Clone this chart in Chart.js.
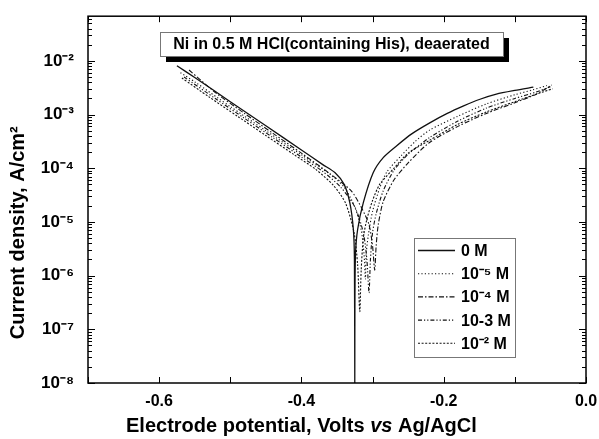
<!DOCTYPE html>
<html><head><meta charset="utf-8">
<script src="https://cdn.jsdelivr.net/npm/chart.js@4"></script>
<style>html,body{margin:0;padding:0;background:#fff}#wrap{width:599px;height:439px}</style>
</head><body><div id="wrap"><canvas id="c" width="599" height="439"></canvas></div>
<script>
// ---- data ----
const seriesLabels = ['0 M', '10\u207B\u2075 M', '10\u207B\u2074 M', '10-3 M', '10\u207B\u00B2 M'];
const chartTitle = 'Ni in 0.5 M HCl(containing His), deaerated';
const xTitleParts = ['Electrode potential, Volts ', 'vs', ' Ag/AgCl'];
const yTitle = 'Current density, A/cm\u00B2';

const potential_0M = [-0.575,-0.55,-0.50,-0.45,-0.40,-0.37,-0.353,-0.340,-0.332,-0.327,-0.3255,-0.325,-0.3248,-0.324,-0.321,-0.313,-0.299,-0.285,-0.266,-0.245,-0.219,-0.195,-0.172,-0.150,-0.126,-0.100,-0.074];
const current_0M   = [8.13e-3,4.90e-3,1.74e-3,6.17e-4,2.19e-4,1.17e-4,8.32e-5,5.01e-5,2.29e-5,7.24e-6,2.00e-6,1.0e-8,3.16e-7,2.51e-6,7.24e-6,2.29e-5,8.32e-5,1.58e-4,2.63e-4,4.37e-4,7.08e-4,1.05e-3,1.45e-3,1.91e-3,2.40e-3,2.82e-3,3.24e-3];

const potential_1e5 = [-0.570,-0.55,-0.50,-0.45,-0.40,-0.36,-0.34,-0.325,-0.316,-0.312,-0.310,-0.309,-0.306,-0.300,-0.290,-0.280,-0.260,-0.240,-0.220,-0.180,-0.140,-0.100,-0.075,-0.055];
const current_1e5   = [6.03e-3,4.07e-3,1.41e-3,5.01e-4,1.78e-4,7.76e-5,4.47e-5,1.91e-5,7.08e-6,2.51e-6,8.51e-7,2.51e-6,5.62e-6,1.58e-5,4.27e-5,8.51e-5,1.70e-4,3.16e-4,5.13e-4,9.33e-4,1.58e-3,2.34e-3,2.88e-3,3.47e-3];

const potential_1e4 = [-0.558,-0.52,-0.48,-0.44,-0.40,-0.36,-0.33,-0.315,-0.305,-0.300,-0.297,-0.295,-0.292,-0.285,-0.270,-0.250,-0.220,-0.180,-0.140,-0.100,-0.070,-0.048];
const current_1e4   = [6.76e-3,2.51e-3,1.05e-3,4.47e-4,1.91e-4,7.94e-5,3.80e-5,1.78e-5,8.91e-6,3.55e-6,1.26e-6,3.55e-6,8.91e-6,2.40e-5,6.03e-5,1.26e-4,3.02e-4,6.03e-4,1.05e-3,1.66e-3,2.40e-3,3.55e-3];

const potential_1e3 = [-0.565,-0.52,-0.48,-0.44,-0.40,-0.37,-0.345,-0.325,-0.313,-0.308,-0.305,-0.303,-0.300,-0.295,-0.285,-0.270,-0.250,-0.220,-0.180,-0.140,-0.100,-0.070,-0.050];
const current_1e3   = [5.01e-3,1.95e-3,8.51e-4,3.72e-4,1.62e-4,8.71e-5,4.47e-5,1.91e-5,6.31e-6,2.00e-6,4.79e-7,2.00e-6,6.31e-6,1.41e-5,3.80e-5,9.12e-5,1.82e-4,3.72e-4,7.59e-4,1.32e-3,2.00e-3,2.63e-3,3.31e-3];

const potential_1e2 = [-0.568,-0.53,-0.49,-0.45,-0.41,-0.38,-0.355,-0.338,-0.326,-0.321,-0.318,-0.316,-0.313,-0.308,-0.300,-0.290,-0.270,-0.250,-0.220,-0.180,-0.140,-0.100,-0.070,-0.047];
const current_1e2   = [4.79e-3,2.14e-3,9.33e-4,4.07e-4,1.78e-4,9.55e-5,4.79e-5,2.24e-5,6.31e-6,1.58e-6,2.14e-7,1.26e-6,5.01e-6,1.12e-5,2.51e-5,5.01e-5,1.00e-4,1.91e-4,3.31e-4,6.61e-4,1.12e-3,1.74e-3,2.40e-3,3.02e-3];

const yMajorTicks  = [1e-8,1e-7,1e-6,1e-5,1e-4,1e-3,1e-2];
const yTickLabels  = ['10\u207B\u2078','10\u207B\u2077','10\u207B\u2076','10\u207B\u2075','10\u207B\u2074','10\u207B\u00B3','10\u207B\u00B2'];
const xTicks       = [-0.7,-0.6,-0.5,-0.4,-0.3,-0.2,-0.1,0.0];
const xTickLabels  = ['','-0.6','','-0.4','','-0.2','','0.0'];

// ---- styles ----
const FONT = "'Liberation Sans', Arial, Helvetica, sans-serif";
const Y_MAX = 0.068;
const styles = [
  {dash: [], width: 1.3},
  {dash: [1.2, 2.2], width: 1.1},
  {dash: [5, 2, 1.5, 2], width: 1.1},
  {dash: [4, 2, 1.2, 2, 1.2, 2], width: 1.1},
  {dash: [2, 1.6], width: 1.1}
];
const pairs = [[potential_0M,current_0M],[potential_1e5,current_1e5],[potential_1e4,current_1e4],[potential_1e3,current_1e3],[potential_1e2,current_1e2]];

const datasets = pairs.map((p, k) => ({
  label: seriesLabels[k],
  data: p[0].map((v, i) => ({x: v, y: p[1][i]})),
  showLine: true,
  borderColor: '#111',
  backgroundColor: '#111',
  borderWidth: styles[k].width,
  borderDash: styles[k].dash,
  pointRadius: 0,
  tension: 0.25,
  fill: false
}));

function isMajorY(v){ return yMajorTicks.some(m => Math.abs(Math.log10(v) - Math.log10(m)) < 1e-6); }

const decorations = {
  id: 'decorations',
  afterDraw(chart){
    const {ctx, chartArea: a, scales: {x, y}} = chart;
    ctx.save();
    ctx.strokeStyle = '#000';
    ctx.lineWidth = 1;
    ctx.setLineDash([]);
    const ln = (x1,y1,x2,y2) => { ctx.beginPath(); ctx.moveTo(x1,y1); ctx.lineTo(x2,y2); ctx.stroke(); };
    y.ticks.forEach(t => {
      const p = Math.round(y.getPixelForValue(t.value)) + 0.5;
      const L = isMajorY(t.value) ? 7 : 4;
      ln(a.left, p, a.left + L, p);
      ln(a.right, p, a.right - L, p);
    });
    x.ticks.forEach(t => {
      const p = Math.round(x.getPixelForValue(t.value)) + 0.5;
      ln(p, a.bottom, p, a.bottom - 6);
      ln(p, a.top, p, a.top + 6);
    });
    ctx.lineWidth = 1.5;
    ctx.strokeRect(a.left, a.top, a.right - a.left, a.bottom - a.top);

    // axis titles
    ctx.fillStyle = '#000';
    ctx.textBaseline = 'middle';
    const fN = 'bold 20px ' + FONT, fI = 'italic bold 20px ' + FONT;
    const fonts = [fN, fI, fN];
    let widths = xTitleParts.map((s, i) => { ctx.font = fonts[i]; return ctx.measureText(s).width; });
    let tw = widths.reduce((p, c) => p + c, 0);
    let cx = x.getPixelForValue(-0.4) - tw / 2;
    ctx.textAlign = 'left';
    xTitleParts.forEach((s, i) => { ctx.font = fonts[i]; ctx.fillText(s, cx, 426); cx += widths[i]; });

    ctx.save();
    ctx.translate(18, y.getPixelForValue(6.3e-6));
    ctx.rotate(-Math.PI / 2);
    ctx.font = 'bold 20px ' + FONT;
    ctx.textAlign = 'center';
    ctx.fillText(yTitle, 0, 0);
    ctx.restore();

    // title box with shadow
    const bx = 160, by = 32, bw = 343, bh = 24;
    ctx.fillStyle = '#000';
    ctx.fillRect(bx + 6, by + 6, bw, bh);
    ctx.fillStyle = '#fff';
    ctx.fillRect(bx, by, bw, bh);
    ctx.lineWidth = 1;
    ctx.strokeStyle = '#777';
    ctx.strokeRect(bx + 0.5, by + 0.5, bw, bh);
    ctx.fillStyle = '#000';
    ctx.font = 'bold 16px ' + FONT;
    ctx.textAlign = 'center';
    ctx.fillText(chartTitle, bx + bw / 2, by + bh / 2 + 1);

    // legend
    const lx = 414, ly = 238, lw = 101, lh = 119;
    ctx.fillStyle = '#fff';
    ctx.fillRect(lx, ly, lw, lh);
    ctx.strokeStyle = '#777';
    ctx.strokeRect(lx + 0.5, ly + 0.5, lw, lh);
    ctx.font = 'bold 16px ' + FONT;
    ctx.textAlign = 'left';
    chart.data.datasets.forEach((ds, i) => {
      const yy = ly + 12.5 + i * 23.2;
      ctx.strokeStyle = '#111';
      ctx.lineWidth = ds.borderWidth;
      ctx.setLineDash(ds.borderDash);
      ln(lx + 4, yy, lx + 41, yy);
      ctx.setLineDash([]);
      ctx.fillStyle = '#000';
      ctx.fillText(ds.label, lx + 47, yy + 1);
    });
    ctx.restore();
  }
};

new Chart(document.getElementById('c'), {
  type: 'scatter',
  data: {datasets},
  options: {
    responsive: false,
    animation: false,
    layout: {padding: {top: 12, right: 13, left: 0, bottom: 0}},
    plugins: {legend: {display: false}, tooltip: {enabled: false}},
    scales: {
      x: {
        type: 'linear', min: -0.7, max: 0,
        grid: {display: false}, border: {display: false},
        afterBuildTicks: s => { s.ticks = xTicks.map(v => ({value: v})); },
        afterFit: s => { s.height = 56; },
        ticks: {
          autoSkip: false, maxRotation: 0, padding: 1, color: '#000',
          font: {family: FONT, size: 16, weight: 'bold'},
          callback: (v, i) => xTickLabels[i]
        },
        title: {display: false, text: xTitleParts.join('')}
      },
      y: {
        type: 'logarithmic', min: 1e-8, max: Y_MAX,
        grid: {display: false}, border: {display: false},
        afterBuildTicks: s => {
          const t = [];
          yMajorTicks.forEach(m => { for (let k = 1; k <= 9; k++) { const v = m * k; if (v <= Y_MAX + 1e-12) t.push({value: v}); } });
          s.ticks = t;
        },
        afterFit: s => { s.width = 88; },
        ticks: {
          autoSkip: false, padding: 6, color: '#000',
          font: {family: FONT, size: 17, weight: 'bold'},
          callback: (v) => { const j = yMajorTicks.findIndex(m => Math.abs(Math.log10(v) - Math.log10(m)) < 1e-6); return j >= 0 ? yTickLabels[j] : ''; }
        },
        title: {display: false, text: yTitle}
      }
    }
  },
  plugins: [decorations]
});
</script></body></html>
